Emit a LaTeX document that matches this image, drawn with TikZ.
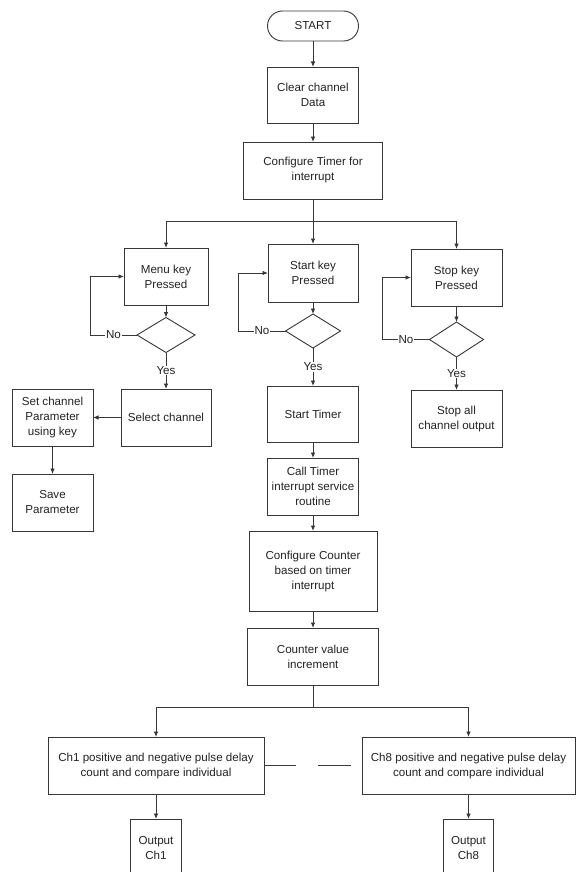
\documentclass[tikz,border=0pt]{standalone}
\usepackage{fontspec}
\setmainfont{Liberation Sans}
\usetikzlibrary{shapes.geometric,arrows.meta}
\definecolor{lncol}{RGB}{55,55,55}
\definecolor{txcol}{RGB}{35,35,35}
\begin{document}
\begin{tikzpicture}[x=1pt,y=-1pt,
  box/.style={draw=lncol, line width=0.9pt, rectangle, align=center, inner sep=1pt, outer sep=0pt,
    text=txcol, font=\fontsize{11.6}{15}\selectfont},
  term/.style={box, rounded corners=15pt},
  dec/.style={draw=lncol, line width=0.9pt, diamond, inner sep=0pt, outer sep=0pt},
  conn/.style={draw=lncol, line width=0.9pt},
  arr/.style={conn, -{Latex[length=5.5pt,width=4.5pt]}},
  lbl/.style={fill=white, inner sep=0.6pt, text=txcol, font=\fontsize{11.6}{14}\selectfont}
]
\fill[white] (0,0) rectangle (576,872);
\useasboundingbox (0,0) rectangle (576,872);

% main column
\node[term, minimum width=91pt, minimum height=30pt] (start) at (313,26) {START};
\node[box, minimum width=91pt, minimum height=56pt] (clear) at (313,95) {Clear channel\\Data};
\node[box, minimum width=139pt, minimum height=57pt] (conf) at (313,170.5) {Configure Timer for\\interrupt};

% menu column
\node[box, minimum width=84pt, minimum height=57pt] (menu) at (166,276.5) {Menu key\\Pressed};
\node[dec, minimum width=58pt, minimum height=35pt] (dmenu) at (166,335) {};
\node[box, minimum width=90pt, minimum height=57pt] (select) at (166,417.5) {Select channel};
\node[box, minimum width=81pt, minimum height=57pt] (setp) at (52.5,417.5) {Set channel\\Parameter\\using key};
\node[box, minimum width=81pt, minimum height=57pt] (save) at (52.5,502.5) {Save\\Parameter};

% start column
\node[box, minimum width=90pt, minimum height=58pt] (startk) at (313,273) {Start key\\Pressed};
\node[dec, minimum width=55pt, minimum height=34pt] (dstart) at (313,331) {};
\node[box, minimum width=91pt, minimum height=56pt] (stimer) at (313,414) {Start Timer};
\node[box, minimum width=91pt, minimum height=57pt] (call) at (313,486.5) {Call Timer\\interrupt service\\routine};
\node[box, minimum width=128pt, minimum height=80pt] (cc) at (313,571) {Configure Counter\\based on timer\\interrupt};
\node[box, minimum width=131pt, minimum height=57pt] (cv) at (313,656.5) {Counter value\\increment};

% stop column
\node[box, minimum width=91pt, minimum height=57pt] (stop) at (456.5,277.5) {Stop key\\Pressed};
\node[dec, minimum width=54pt, minimum height=35pt] (dstop) at (456.5,339.5) {};
\node[box, minimum width=91pt, minimum height=57pt] (stopall) at (456.5,418.5) {Stop all\\channel output};

% channels
\node[box, minimum width=216pt, minimum height=57pt] (ch1) at (156,765.5) {Ch1 positive and negative pulse delay\\count and compare individual};
\node[box, minimum width=213pt, minimum height=57pt] (ch8) at (468.5,765.5) {Ch8 positive and negative pulse delay\\count and compare individual};
\node[box, minimum width=51pt, minimum height=57pt] (out1) at (156,847.5) {Output\\Ch1};
\node[box, minimum width=50pt, minimum height=57pt] (out8) at (468.5,847.5) {Output\\Ch8};

% connectors
\draw[arr] (start) -- (clear);
\draw[arr] (clear) -- (conf);
\coordinate (b1) at (313,221);
\draw[conn] (conf.south) -- (b1);
\draw[arr] (b1) -| (menu.north);
\draw[arr] (b1) -- (startk.north);
\draw[arr] (b1) -| (stop.north);

\draw[arr] (menu) -- (dmenu);
\draw[arr] (dmenu.west) -- node[lbl]{No} ++(-47,0) |- (menu.west);
\draw[arr] (dmenu) -- node[lbl]{Yes} (select);
\draw[arr] (select) -- (setp);
\draw[arr] (setp) -- (save);

\draw[arr] (startk) -- (dstart);
\draw[arr] (dstart.west) -- node[lbl]{No} ++(-47,0) |- (startk.west);
\draw[arr] (dstart) -- node[lbl]{Yes} (stimer);
\draw[arr] (stimer) -- (call);
\draw[arr] (call) -- (cc);
\draw[arr] (cc) -- (cv);

\draw[arr] (stop) -- (dstop);
\draw[arr] (dstop.west) -- node[lbl]{No} ++(-47,0) |- (stop.west);
\draw[arr] (dstop) -- node[lbl]{Yes} (stopall);

\coordinate (b2) at (313,707);
\draw[conn] (cv.south) -- (b2);
\draw[arr] (b2) -| (ch1.north);
\draw[arr] (b2) -| (ch8.north);
\draw[conn, dash pattern=on 32pt off 22pt on 33pt off 11pt] (ch1.east) -- (ch8.west);
\draw[arr] (ch1) -- (out1);
\draw[arr] (ch8) -- (out8);
\end{tikzpicture}
\end{document}
